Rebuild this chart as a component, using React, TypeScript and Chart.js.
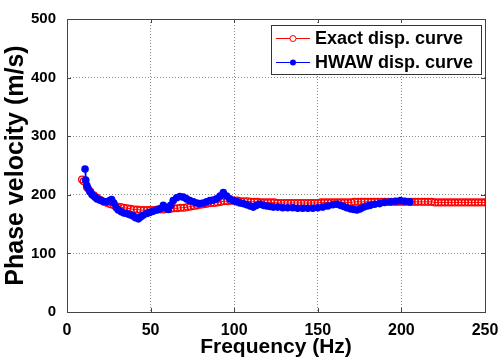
import React, { useEffect, useRef } from 'react';
import { Chart, registerables } from 'chart.js';

Chart.register(...registerables);

const exactFreq = [
  9, 10, 12, 14, 16, 18, 20, 22, 24, 26, 28, 30, 32, 34, 36, 38, 40, 42, 44, 46, 48,
  50, 52, 54, 56, 58, 60, 62, 64, 66, 68, 70, 72, 74, 76, 78, 80, 82, 84, 86, 88,
  90, 92, 94, 96, 98, 100, 102, 104, 106, 108, 110, 112, 114, 116, 118, 120, 122, 124, 126, 128,
  130, 132, 134, 136, 138, 140, 142, 144, 146, 148, 150, 152, 154, 156, 158, 160, 162, 164, 166, 168,
  170, 172, 174, 176, 178, 180, 182, 184, 186, 188, 190, 192, 194, 196, 198, 200, 202, 204, 206, 208,
  210, 212, 214, 216, 218, 220, 222, 224, 226, 228, 230, 232, 234, 236, 238, 240, 242, 244, 246, 248, 250,
];
const exactVel = [
  226, 223, 213, 205, 199, 195, 191, 188, 186, 184, 182, 180, 179, 178, 177, 176, 175, 175, 174, 174, 174,
  174, 174, 175, 175, 175, 176, 176, 177, 177, 178, 178, 179, 180, 181, 182, 183, 184, 185, 186, 186,
  187, 188, 189, 189, 190, 190, 190, 189, 189, 189, 188, 188, 188, 187, 187, 187, 187, 187, 186, 186,
  186, 186, 186, 186, 186, 186, 186, 186, 186, 186, 186, 187, 187, 187, 187, 187, 187, 187, 187, 187,
  187, 188, 188, 188, 188, 188, 188, 188, 188, 188, 188, 188, 188, 188, 188, 188, 188, 188, 188, 188,
  188, 188, 188, 188, 188, 187, 187, 187, 187, 187, 187, 187, 187, 187, 187, 187, 187, 187, 187, 187, 187,
];

const hwawFreq = [
  10.8, 11.2, 11.8, 12.8, 13.8, 15, 16.8, 18, 19.7, 21.5, 23.7, 25.5, 26.7, 28, 29.5, 30.7, 32.5, 34, 35.7, 37.5,
  39.5, 41, 42.7, 44, 45.5, 47.7, 49.5, 51.5, 53.5, 55.6, 57.6, 59, 60.6, 62, 63.5, 65.6, 67.5, 69.6, 71.5, 73.5,
  75.6, 77.5, 79.5, 81.5, 83.5, 85.5, 87.5, 89.5, 91.5, 93.5, 95.5, 97.4, 99.5, 101.5, 103.5, 105.4, 107.5, 109.5, 111.4, 113.5,
  115.4, 117.5, 119.5, 121.5, 123.4, 126, 129, 132, 135, 138, 141, 144, 147, 150, 153, 156, 159, 161.4, 163.5, 165.5,
  167.4, 169.5, 171.5, 173.4, 175.5, 177.5, 179.5, 181.4, 184, 187, 190, 193.4, 196.5, 199.4, 202, 205.1,
];
const hwawVel = [
  244, 225, 216, 210, 205, 200, 196, 193, 191, 189, 188, 190, 192, 186, 178, 174, 171, 169, 168, 166,
  164, 161, 159, 162, 165, 168, 170, 172, 174, 176, 182, 178, 175, 182, 190, 195, 197, 196, 193, 190,
  188, 186, 185, 186, 188, 190, 191, 193, 198, 204, 198, 193, 190, 188, 186, 185, 183, 181, 179, 182,
  184, 182, 181, 180, 179, 179, 178, 178, 178, 177, 177, 177, 177, 178, 179, 181, 183, 184, 182, 180,
  178, 176, 175, 174, 176, 179, 181, 182, 184, 185, 187, 188, 189, 190, 189, 188,
];

const xTicks = [0, 50, 100, 150, 200, 250];
const yTicks = [0, 100, 200, 300, 400, 500];
const legendLabels = ['Exact disp. curve', 'HWAW disp. curve'];
const xTitle = 'Frequency (Hz)';
const yTitle = 'Phase velocity (m/s)';

const FONT = '"Liberation Sans", Arial, sans-serif';

const framePlugin = {
  id: 'matlabFrame',
  afterDraw(chart: any) {
    const { ctx, chartArea } = chart;
    const { left, right, top, bottom } = chartArea;
    const xs = chart.scales.x;
    const ys = chart.scales.y;
    ctx.save();
    ctx.strokeStyle = '#444';
    ctx.lineWidth = 1;
    ctx.setLineDash([]);
    ctx.beginPath();
    xTicks.forEach((t) => {
      const px = Math.round(xs.getPixelForValue(t)) + 0.5;
      ctx.moveTo(px, bottom);
      ctx.lineTo(px, bottom - 4);
      ctx.moveTo(px, top);
      ctx.lineTo(px, top + 4);
    });
    yTicks.forEach((t) => {
      const py = Math.round(ys.getPixelForValue(t)) + 0.5;
      ctx.moveTo(left, py);
      ctx.lineTo(left + 4, py);
      ctx.moveTo(right, py);
      ctx.lineTo(right - 4, py);
    });
    ctx.stroke();
    ctx.strokeRect(Math.round(left) + 0.5, Math.round(top) + 0.5, Math.round(right - left), Math.round(bottom - top));

    // legend
    const lx = 271, ly = 25, lw = 210, lh = 49;
    ctx.fillStyle = '#fff';
    ctx.fillRect(lx, ly, lw, lh);
    ctx.strokeStyle = '#333';
    ctx.strokeRect(lx + 0.5, ly + 0.5, lw, lh);
    const rows = [
      { y: 38, color: '#ff0000', filled: false, label: legendLabels[0] },
      { y: 62, color: '#0000ff', filled: true, label: legendLabels[1] },
    ];
    rows.forEach((r) => {
      ctx.strokeStyle = r.color;
      ctx.lineWidth = 1;
      ctx.beginPath();
      ctx.moveTo(276, r.y + 0.5);
      ctx.lineTo(310, r.y + 0.5);
      ctx.stroke();
      ctx.beginPath();
      ctx.arc(293, r.y + 0.5, 3, 0, Math.PI * 2);
      if (r.filled) {
        ctx.fillStyle = r.color;
        ctx.fill();
      } else {
        ctx.fillStyle = '#fff';
        ctx.fill();
        ctx.stroke();
      }
      ctx.fillStyle = '#000';
      ctx.font = 'bold 18px ' + FONT;
      ctx.textAlign = 'left';
      ctx.textBaseline = 'middle';
      ctx.fillText(r.label, 315, r.y + 1);
    });
    ctx.restore();
  },
};

export default function App() {
  const ref = useRef<HTMLCanvasElement | null>(null);

  useEffect(() => {
    document.body.style.margin = '0';
    const canvas = ref.current;
    if (!canvas) return;
    const chart = new Chart(canvas, {
      type: 'line',
      data: {
        datasets: [
          {
            label: legendLabels[1],
            data: hwawFreq.map((f, i) => ({ x: f, y: hwawVel[i] })),
            borderColor: '#0000ff',
            backgroundColor: '#0000ff',
            borderWidth: 1.5,
            pointRadius: 3.8,
            pointBorderWidth: 0,
            pointBackgroundColor: '#0000ff',
            tension: 0,
            order: 0,
          },
          {
            label: legendLabels[0],
            data: exactFreq.map((f, i) => ({ x: f, y: exactVel[i] })),
            borderColor: '#ff0000',
            backgroundColor: 'rgba(0,0,0,0)',
            borderWidth: 1,
            pointRadius: 3.4,
            pointBorderWidth: 1.3,
            pointBorderColor: '#ff0000',
            pointBackgroundColor: 'rgba(255,255,255,0)',
            tension: 0,
            order: 1,
          },
        ],
      },
      options: {
        animation: false,
        responsive: false,
        maintainAspectRatio: false,
        layout: { padding: { top: 19, right: 16, left: 0, bottom: 0 } },
        plugins: {
          legend: { display: false },
          tooltip: { enabled: false },
        },
        scales: {
          x: {
            type: 'linear',
            min: 0,
            max: 250,
            afterBuildTicks: (s: any) => {
              s.ticks = xTicks.map((v) => ({ value: v }));
            },
            afterFit: (s: any) => {
              s.height = 49;
              s.paddingLeft = 0;
              s.paddingRight = 0;
            },
            grid: { color: '#8a8a8a', lineWidth: 1, drawTicks: false },
            border: { display: false, dash: [1, 2] },
            ticks: {
              color: '#000',
              padding: 9,
              maxRotation: 0,
              autoSkip: false,
              font: { family: FONT, size: 16, weight: 'bold' },
            },
            title: {
              display: true,
              text: xTitle,
              color: '#000',
              padding: { top: 0, bottom: 1 },
              font: { family: FONT, size: 21, weight: 'bold' },
            },
          },
          y: {
            type: 'linear',
            min: 0,
            max: 500,
            afterBuildTicks: (s: any) => {
              s.ticks = yTicks.map((v) => ({ value: v }));
            },
            afterFit: (s: any) => {
              s.width = 67;
              s.paddingTop = 0;
              s.paddingBottom = 0;
            },
            grid: { color: '#8a8a8a', lineWidth: 1, drawTicks: false },
            border: { display: false, dash: [1, 2] },
            ticks: {
              color: '#000',
              padding: 11,
              autoSkip: false,
              font: { family: FONT, size: 15, weight: 'bold' },
            },
            title: {
              display: true,
              text: yTitle,
              color: '#000',
              padding: { top: 1, bottom: 0 },
              font: { family: FONT, size: 25, weight: 'bold' },
            },
          },
        },
      },
      plugins: [framePlugin],
    } as any);
    return () => chart.destroy();
  }, []);

  return (
    <div style={{ width: 501, height: 361 }}>
      <canvas ref={ref} width={501} height={361} style={{ display: 'block', width: 501, height: 361 }} />
    </div>
  );
}
